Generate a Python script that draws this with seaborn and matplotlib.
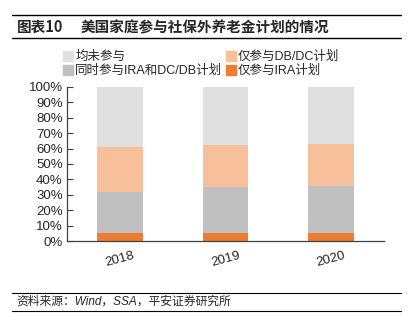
import numpy as np
import pandas as pd
import matplotlib
matplotlib.use("Agg")
import matplotlib.pyplot as plt
import seaborn as sns
from matplotlib.lines import Line2D
from matplotlib.patches import Patch

sns.set_style("white")
plt.rcParams['font.family'] = ['Noto Sans CJK SC', 'DejaVu Sans']

years = ["2018", "2019", "2020"]
only_ira = [5, 5, 5]
both = [27, 30, 31]
only_dbdc = [29, 27, 27]
none_ = [39, 38, 37]

colors = {"均未参与": "#E0E0E0", "仅参与DB/DC计划": "#F8C09A",
          "同时参与IRA和DC/DB计划": "#C0C0C0", "仅参与IRA计划": "#ED7D31"}

# cumulative stacks (bottom to top: IRA, both, DB/DC, none)
c1 = np.array(only_ira)
c2 = c1 + np.array(both)
c3 = c2 + np.array(only_dbdc)
c4 = c3 + np.array(none_)

fig = plt.figure(figsize=(4.13, 3.34), dpi=100)
ax = fig.add_axes([0.162, 0.278, 0.768, 0.462])

stack = [("均未参与", c4), ("仅参与DB/DC计划", c3),
         ("同时参与IRA和DC/DB计划", c2), ("仅参与IRA计划", c1)]
for name, vals in stack:
    df = pd.DataFrame({"year": years, "v": vals})
    sns.barplot(data=df, x="year", y="v", color=colors[name], width=0.43,
                ax=ax, saturation=1, edgecolor="none", errorbar=None)

lat = ['Liberation Sans', 'Noto Sans CJK SC', 'DejaVu Sans']
ax.set_xlim(-0.5, 2.5)
ax.set_ylim(0, 100)
ax.set_yticks(np.arange(0, 101, 10))
ax.set_yticklabels([f"{v}%" for v in range(0, 101, 10)], fontsize=9.5, family=lat)
ax.set_xticks([0, 1, 2])
ax.set_xticklabels(years, fontsize=9.5, rotation=15, family=lat)
ax.set_xticks([0.5, 1.5, 2.5], minor=True)
ax.tick_params(axis='x', which='major', length=0, pad=6)
ax.tick_params(axis='x', which='minor', direction='in', length=4, width=0.8, color='#404040')
ax.tick_params(axis='y', direction='in', length=4, width=0.8, color='#404040', left=True, pad=3)
ax.set_xlabel("")
ax.set_ylabel("")
for s in ["top", "right"]:
    ax.spines[s].set_visible(False)
for s in ["left", "bottom"]:
    ax.spines[s].set_color("#404040")
    ax.spines[s].set_linewidth(0.9)

labels = ["均未参与", "同时参与IRA和DC/DB计划", "仅参与DB/DC计划", "仅参与IRA计划"]
handles = [Patch(color=colors[n]) for n in labels]
fig.legend(handles, labels, ncol=2, loc="upper left", bbox_to_anchor=(0.135, 0.87),
           frameon=False, prop={'family': lat, 'size': 9}, handlelength=0.8,
           handleheight=0.8, handletextpad=0.15, columnspacing=0.3,
           labelspacing=0.15, borderpad=0.1)

# title and rules
fig.add_artist(Line2D([0.03, 0.97], [1 - 15/334, 1 - 15/334], color="black", lw=1.0))
fig.add_artist(Line2D([0.03, 0.97], [1 - 38/334, 1 - 38/334], color="black", lw=1.0))
fig.text(0.04, 1 - 27/334, "图表10", fontsize=10.5, fontweight="bold", va="center")
fig.text(0.195, 1 - 27/334, "美国家庭参与社保外养老金计划的情况", fontsize=10.5,
         fontweight="bold", va="center")

fig.add_artist(Line2D([0.03, 0.97], [1 - 293/334, 1 - 293/334], color="black", lw=0.8))
fig.add_artist(Line2D([0.03, 0.97], [1 - 311/334, 1 - 311/334], color="black", lw=0.8))
fig.text(0.04, 1 - 302/334, "资料来源：Wind，SSA，平安证券研究所", fontsize=8.5,
         style="italic", va="center", family=lat)

fig.savefig("out.png", dpi=100)
